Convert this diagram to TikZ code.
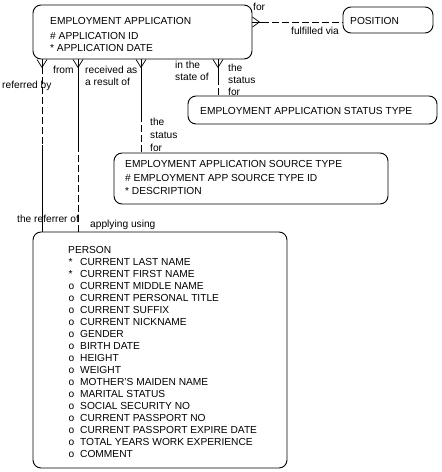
\documentclass[tikz,border=0pt]{standalone}
\usepackage{fontspec}
\setmainfont{Liberation Sans}
\usetikzlibrary{calc}
\begin{document}
\begin{tikzpicture}[x=1pt,y=-1pt,
  ent/.style={draw, rounded corners=8pt, line width=0.9pt, inner sep=0pt},
  txt/.style={anchor=base west, inner sep=0pt, font=\fontsize{10.2}{12}\selectfont},
  rel/.style={line width=0.7pt},
  reldash/.style={line width=0.7pt, dash pattern=on 7pt off 3pt}]
\useasboundingbox (0,0) rectangle (442,472);
% entities
\node[ent, minimum width=219pt, minimum height=54pt] (ea) at (142.5,32) {};
\node[ent, minimum width=90pt, minimum height=26pt] (pos) at (388,20) {};
\node[ent, minimum width=249pt, minimum height=28pt] (status) at (312.5,110) {};
\node[ent, minimum width=274pt, minimum height=51pt] (source) at (251,178.5) {};
\node[ent, minimum width=254pt, minimum height=236pt] (person) at (160,350) {};
% entity texts
\node[txt] (eaname) at (50,24) {EMPLOYMENT APPLICATION};
\node[txt] (eaid) at (50,39) {\# APPLICATION ID};
\node[txt] (eadate) at (50,51) {* APPLICATION DATE};
\node[txt] (posname) at (350,24) {POSITION};
\node[txt] (stname) at (200,114) {EMPLOYMENT APPLICATION STATUS TYPE};
\node[txt] (srcname) at (125,167) {EMPLOYMENT APPLICATION SOURCE TYPE};
\node[txt] (srcid) at (125,181) {\# EMPLOYMENT APP SOURCE TYPE ID};
\node[txt] (srcdesc) at (125,194) {* DESCRIPTION};
\node[txt] (pname) at (68,253) {PERSON};
\foreach \b/\t [count=\i] in {{*}/{CURRENT LAST NAME},{*}/{CURRENT FIRST NAME},
  o/{CURRENT MIDDLE NAME},o/{CURRENT PERSONAL TITLE},o/{CURRENT SUFFIX},
  o/{CURRENT NICKNAME},o/{GENDER},o/{BIRTH DATE},o/{HEIGHT},o/{WEIGHT},
  o/{MOTHER'S MAIDEN NAME},o/{MARITAL STATUS},o/{SOCIAL SECURITY NO},
  o/{CURRENT PASSPORT NO},o/{CURRENT PASSPORT EXPIRE DATE},
  o/{TOTAL YEARS WORK EXPERIENCE},o/{COMMENT}}{
  \node[txt] (pb\i) at (68.5,253+12*\i) {\b};
  \node[txt] (pt\i) at (80,253+12*\i) {\t};
}
% relationship anchors
\coordinate (r1top) at (ea.south -| 42,0);
\coordinate (r1mid) at (42,145);
\coordinate (r2top) at (ea.south -| 78,0);
\coordinate (r2mid) at (78,145);
\coordinate (r3top) at (ea.south -| 141,0);
\coordinate (r3mid) at (141,115);
\coordinate (r4top) at (ea.south -| 218,0);
\coordinate (r4mid) at (218,78);
\coordinate (r5top) at (ea.east |- 0,22);
\coordinate (r5mid) at (262,22);
% crow's feet
\foreach \c in {r1top,r2top,r3top,r4top}{
  \draw[rel] ($(\c)+(-5,0)$) -- ($(\c)+(0,8)$) -- ($(\c)+(5,0)$);
}
\draw[rel] ($(r5top)+(0,-5)$) -- ($(r5top)+(7,0)$) -- ($(r5top)+(0,5)$);
% connectors
\draw[rel] (r1top) -- ($(r1top)+(0,8)$);
\draw[reldash] ($(r1top)+(0,8)$) -- (r1mid);
\draw[rel] (r1mid) -- (person.north -| r1mid);
\draw[rel] (r2top) -- (r2mid);
\draw[reldash] (r2mid) -- (person.north -| r2mid);
\draw[rel] (r3top) -- (r3mid);
\draw[reldash] (r3mid) -- (source.north -| r3mid);
\draw[rel] (r4top) -- (r4mid);
\draw[reldash] (r4mid) -- (status.north -| r4mid);
\draw[rel] (r5top) -- (r5mid);
\draw[reldash] (r5mid) -- (pos.west |- r5mid);
% labels
\node[txt] (lfor) at (253,10) {for};
\node[txt] (lful) at (291,34) {fulfilled via};
\node[txt] (lref) at (2,88) {referred by};
\node[txt] (lfrom) at (53,73) {from};
\node[txt] (lrec1) at (85,73) {received as};
\node[txt] (lrec2) at (85,85) {a result of};
\node[txt] (lin1) at (175,68) {in the};
\node[txt] (lin2) at (175,80) {state of};
\node[txt] (lst1) at (228,71) {the};
\node[txt] (lst2) at (228,83) {status};
\node[txt] (lst3) at (228,95) {for};
\node[txt] (lsr1) at (150,125) {the};
\node[txt] (lsr2) at (150,138) {status};
\node[txt] (lsr3) at (150,151) {for};
\node[txt] (lrefof) at (17,222) {the referrer of};
\node[txt] (lapp) at (90,227) {applying using};
\end{tikzpicture}
\end{document}
